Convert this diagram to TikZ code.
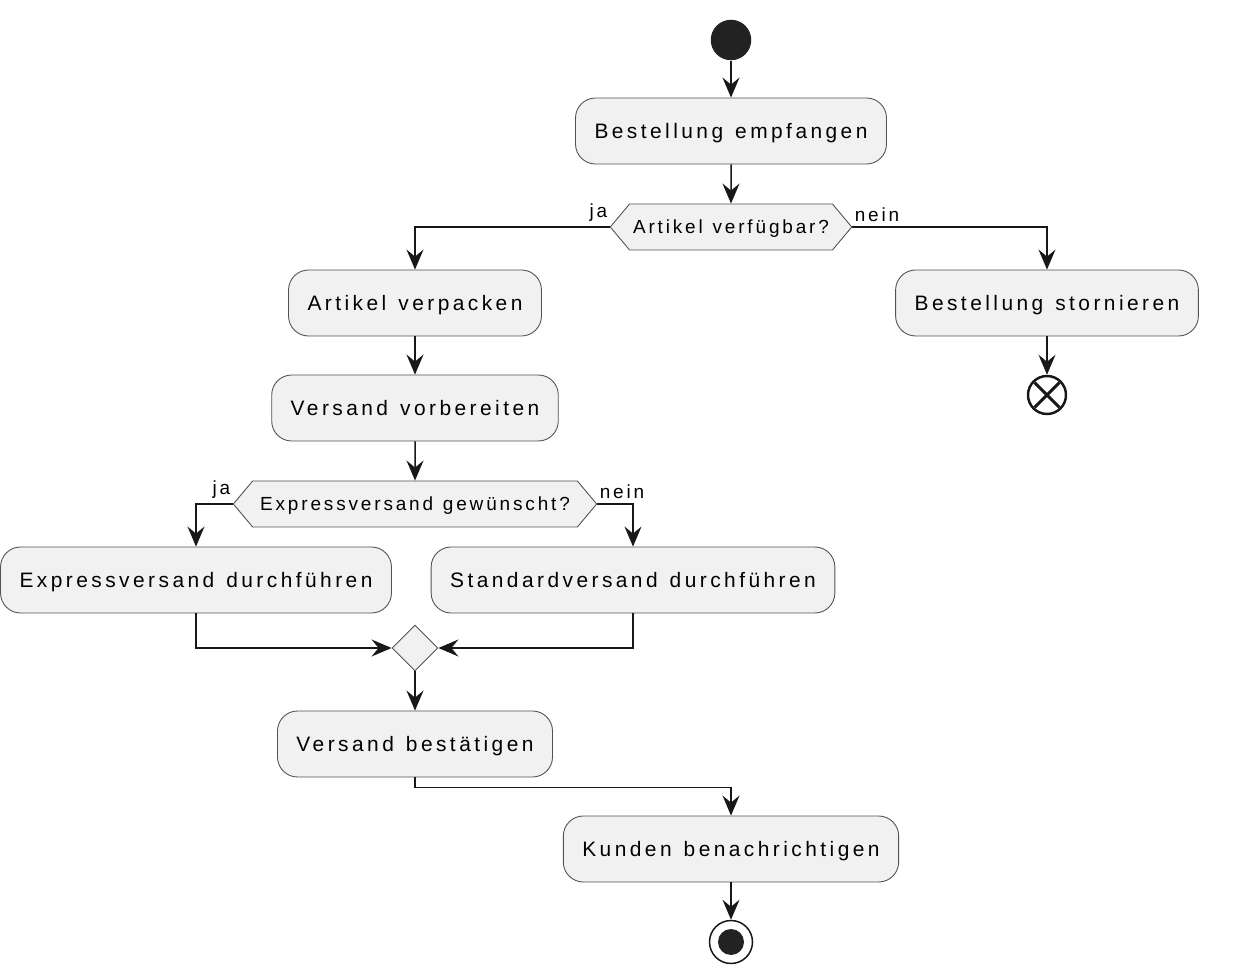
\documentclass[tikz,border=0pt]{standalone}
\usepackage{fontspec}
\setmainfont{Liberation Sans}[LetterSpace=16.5,WordSpace=1.3]
\newfontfamily\guardfont{Liberation Sans}[LetterSpace=15,WordSpace=1.2]
\usetikzlibrary{shapes.geometric,shapes.symbols,arrows.meta}

\definecolor{boxfill}{HTML}{F1F1F1}
\definecolor{linecol}{HTML}{181818}
\definecolor{dotcol}{HTML}{222222}

\begin{document}
\begin{tikzpicture}[
	action/.style={draw=linecol!75, line width=0.5pt, fill=boxfill, rounded corners=0.4cm, minimum height=1.32cm, inner xsep=0.38cm, text height=0.3cm, text depth=0pt, font=\fontsize{11.9}{14}\selectfont},
	choice/.style={draw=linecol!75, line width=0.5pt, fill=boxfill, shape=signal, signal to=west and east, signal pointer angle=100, minimum height=0.92cm, inner xsep=0.07cm, text height=0.27cm, text depth=0pt, font=\guardfont\fontsize{10.8}{13}\selectfont},
	guard/.style={font=\guardfont\fontsize{10.8}{13}\selectfont, inner sep=1pt, yshift=1.5pt},
	flow/.style={->, >={Stealth[length=0.4cm,width=0.34cm,inset=0.14cm]}, line width=0.85pt, draw=linecol}
]
	\useasboundingbox (0,0) rectangle (24.84,19.5);
	%\draw[help lines] (0,0) grid (25,20);

	\node[circle, fill=dotcol, minimum size=0.81cm, inner sep=0pt] (start) at (14.62,18.70) {};
	\node[action] (recv) at (14.62,16.88) {Bestellung empfangen};
	\node[choice] (avail) at (14.62,14.96) {Artikel verfügbar?};
	\node[action] (pack) at (8.30,13.44) {Artikel verpacken};
	\node[action] (cancel) at (20.94,13.44) {Bestellung stornieren};
	\node[circle, draw=linecol, line width=1.4pt, minimum size=0.76cm, inner sep=0pt] (kill) at (20.94,11.60) {};
	\draw[linecol, line width=1.8pt, shorten <=1.5pt, shorten >=1.5pt] (kill.north west) -- (kill.south east);
	\draw[linecol, line width=1.8pt, shorten <=1.5pt, shorten >=1.5pt] (kill.north east) -- (kill.south west);
	\node[action] (prep) at (8.30,11.34) {Versand vorbereiten};
	\node[choice, inner xsep=0.15cm] (express) at (8.30,9.42) {Expressversand gewünscht?};
	\node[action] (expr) at (3.92,7.90) {Expressversand durchführen};
	\node[action] (std) at (12.66,7.90) {Standardversand durchführen};
	\node[diamond, draw=linecol!75, line width=0.5pt, fill=boxfill, minimum size=0.92cm, inner sep=0pt] (merge) at (8.30,6.54) {};
	\node[action] (confirm) at (8.30,4.62) {Versand bestätigen};
	\node[action] (notify) at (14.62,2.52) {Kunden benachrichtigen};
	\node[circle, draw=linecol, line width=0.85pt, minimum size=0.86cm, inner sep=0pt] (stop) at (14.62,0.66) {};
	\node[circle, fill=dotcol, minimum size=0.52cm, inner sep=0pt] (stopdot) at (stop.center) {};

	\draw[flow] (start) -- (recv);
	\draw[flow] (recv) -- (avail);
	\draw[flow] (avail.west) -| node[guard, anchor=south east, pos=0] (yes1) {ja} (pack);
	\draw[flow] (avail.east) -| node[guard, anchor=south west, pos=0] (no1) {nein} (cancel);
	\draw[flow] (cancel) -- (kill);
	\draw[flow] (pack) -- (prep);
	\draw[flow] (prep) -- (express);
	\draw[flow] (express.west) -| node[guard, anchor=south east, pos=0] (yes2) {ja} (expr);
	\draw[flow] (express.east) -| node[guard, anchor=south west, pos=0] (no2) {nein} (std);
	\draw[flow] (expr) |- (merge);
	\draw[flow] (std) |- (merge);
	\draw[flow] (merge) -- (confirm);
	\draw[flow] (confirm.south) -- ++(0,-0.2) -| (notify);
	\draw[flow] (notify) -- (stop);

\end{tikzpicture}
\end{document}
